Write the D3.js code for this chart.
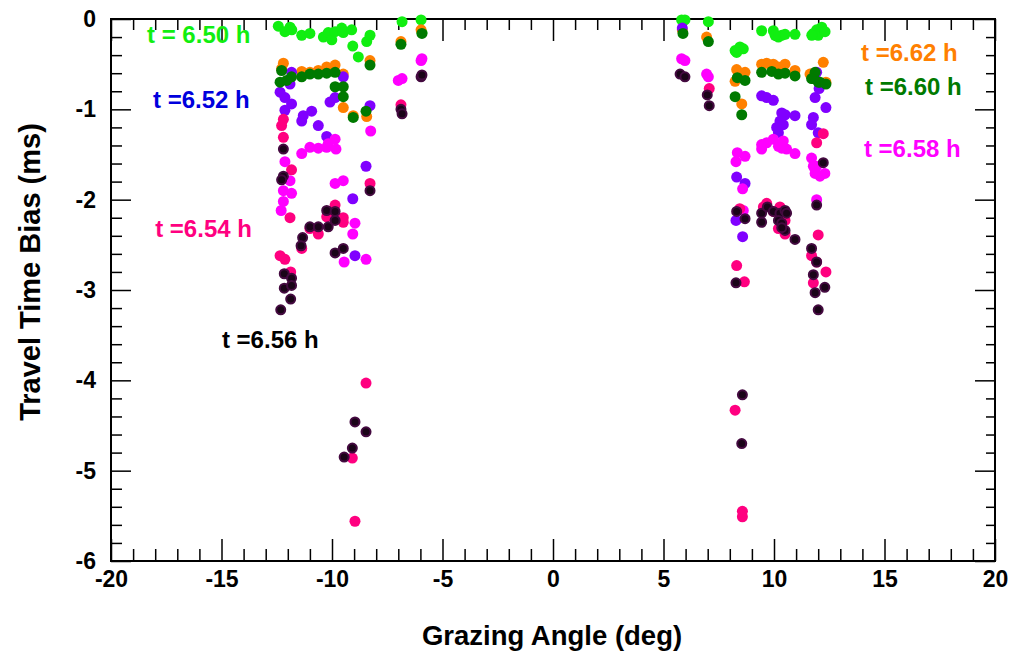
<!DOCTYPE html>
<html lang="en">
<head>
    <meta charset="UTF-8">
    <title>Travel Time Bias vs Grazing Angle</title>
    <script src="https://d3js.org/d3.v7.min.js"></script>
    <style>
        body { margin: 0; background: #fff; }
        svg text { font-family: Arial, "Liberation Sans", sans-serif; font-weight: bold; }
        .tick text { font-size: 23px; fill: #000; }
        .tick line { stroke: #000; stroke-width: 1.5px; }
        .domain { display: none; }
    </style>
</head>
<body>
<svg width="1009" height="654"></svg>

<script>
    // series labels / colours (draw order)
    const series = ["6.50", "6.62", "6.52", "6.58", "6.54", "6.56", "6.60"];
    const colors = {
        "6.50": "#11ee11", "6.52": "#8000ff", "6.54": "#ff0080", "6.56": "#1a0418",
        "6.58": "#ff00ff", "6.60": "#007a00", "6.62": "#ff8000"
    };
    const labelColors = {
        "6.50": "#11ee11", "6.52": "#0000dd", "6.54": "#ff0080", "6.56": "#000000",
        "6.58": "#ff00ff", "6.60": "#007a00", "6.62": "#ff8000"
    };

    // [grazing angle (deg), travel time bias (ms)]
    const t650 = [[-12.43,-0.08],[-12.13,-0.14],[-11.9,-0.09],[-11.82,-0.12],[-11.37,-0.18],[-11.0,-0.16],
        [-10.39,-0.20],[-10.17,-0.15],[-10.01,-0.23],[-9.86,-0.14],[-9.56,-0.10],[-9.49,-0.15],[-9.11,-0.12],
        [-9.06,-0.30],[-8.81,-0.42],[-8.43,-0.25],[-8.28,-0.18],[-6.83,-0.03],[-5.97,-0.01],[-5.93,-0.15],
        [5.82,-0.01],[5.97,-0.01],[7.03,-0.03],[8.24,-0.35],[8.46,-0.31],[8.61,-0.33],[8.31,-0.37],[9.44,-0.13],
        [9.97,-0.13],[10.2,-0.20],[10.35,-0.18],[10.5,-0.17],[10.05,-0.18],[10.95,-0.17],[11.78,-0.16],
        [11.93,-0.12],[12.0,-0.18],[11.71,-0.18],[12.16,-0.09],[12.31,-0.14]];

    const t662 = [[-12.2,-0.49],[-12.28,-0.55],[-11.37,-0.58],[-11.0,-0.59],[-10.62,-0.57],[-10.24,-0.53],
        [-9.86,-0.51],[-9.49,-0.61],[-9.49,-0.98],[-9.04,-1.07],[-8.43,-1.08],[-8.28,-0.46],[-6.88,-0.25],
        [-5.97,-0.12],[5.85,-0.12],[6.95,-0.20],[8.31,-0.56],[8.69,-0.59],[8.24,-0.69],[8.54,-0.94],[9.44,-0.50],
        [9.67,-0.49],[9.97,-0.50],[10.2,-0.53],[10.5,-0.50],[10.95,-0.57],[11.7,-0.61],[12.23,-0.48],
        [11.63,-0.61],[12.35,-0.70]];

    const t652 = [[-11.83,-0.59],[-11.9,-0.72],[-12.35,-0.81],[-12.13,-0.87],[-11.83,-0.94],[-12.13,-1.01],
        [-10.92,-1.02],[-11.3,-1.07],[-11.37,-1.13],[-10.62,-1.18],[-10.09,-0.92],[-9.86,-0.87],[-9.49,-0.64],
        [-8.28,-0.96],[-10.24,-1.30],[-8.46,-1.63],[-9.06,-1.99],[-8.96,-2.62],
        [5.85,-0.10],[9.44,-0.85],[9.67,-0.87],[9.97,-0.90],[10.35,-1.04],[10.5,-1.06],[10.95,-1.07],
        [10.27,-1.13],[10.42,-1.17],[10.12,-1.20],[10.2,-1.26],[11.86,-0.87],[12.04,-0.77],[12.35,-0.98],
        [11.78,-1.09],[11.7,-1.17],[12.0,-1.26],[11.93,-0.59],[8.31,-1.75],[8.69,-1.82],[8.28,-2.23],[8.58,-2.41]];

    const t658 = [[-12.13,-1.58],[-11.9,-1.79],[-12.2,-1.90],[-11.83,-1.93],[-12.2,-2.02],[-12.3,-2.12],
        [-11.37,-1.49],[-11.0,-1.42],[-10.62,-1.43],[-10.24,-1.42],[-10.17,-1.38],[-9.86,-1.33],[-9.82,-1.44],
        [-9.86,-1.82],[-9.49,-1.79],[-8.25,-1.24],[-8.96,-2.26],[-9.06,-2.38],[-9.45,-2.69],[-8.46,-2.66],
        [-6.83,-0.66],[-7.0,-0.68],[-5.97,-0.46],[-5.93,-0.44],
        [5.82,-0.44],[5.97,-0.46],[6.95,-0.61],[7.03,-0.64],[9.44,-1.39],[9.67,-1.37],[9.97,-1.33],
        [10.42,-1.35],[10.35,-1.43],[10.57,-1.44],[10.95,-1.49],[9.44,-1.44],[10.2,-1.41],[8.34,-1.48],
        [8.69,-1.52],[8.28,-1.58],[8.58,-1.88],[8.61,-2.12],[11.7,-1.54],[11.93,-1.63],[11.86,-1.71],
        [12.08,-1.74],[11.93,-2.0],[12.3,-1.71],[11.78,-1.63]];

    const t654 = [[-12.2,-1.11],[-12.28,-1.18],[-12.2,-1.31],[-11.83,-1.67],[-11.9,-2.20],[-9.86,-2.06],
        [-10.24,-2.19],[-9.86,-2.21],[-9.49,-2.20],[-9.49,-2.25],[-8.28,-1.82],[-11.0,-2.32],[-10.62,-2.38],
        [-11.37,-2.54],[-12.35,-2.62],[-12.13,-2.66],[-11.87,-2.80],[-8.46,-4.03],[-9.08,-4.86],[-8.96,-5.56],
        [-6.88,-0.95],
        [7.07,-0.77],[11.93,-1.37],[12.23,-1.27],[9.52,-2.08],[9.67,-2.04],[10.27,-2.08],[10.5,-2.13],
        [9.97,-2.13],[10.5,-2.23],[10.2,-2.32],[10.5,-2.38],[8.31,-2.73],[8.66,-2.91],[11.7,-2.62],
        [11.93,-2.69],[11.78,-2.92],[12.0,-2.39],[12.35,-2.80],[8.24,-4.33],[8.57,-5.45],[8.57,-5.51],[8.45,-2.10]];

    const t656 = [[-12.2,-1.44],[-12.2,-1.74],[-12.28,-1.78],[-10.24,-2.12],[-9.86,-2.13],[-9.86,-2.23],
        [-11.0,-2.30],[-10.62,-2.30],[-10.17,-2.30],[-8.28,-1.90],[-11.33,-2.42],[-11.4,-2.51],[-9.49,-2.54],
        [-9.86,-2.59],[-12.16,-2.82],[-11.83,-2.87],[-12.16,-2.98],[-11.83,-2.95],[-11.87,-3.10],[-12.32,-3.22],
        [-8.96,-4.46],[-8.46,-4.57],[-9.08,-4.75],[-9.45,-4.85],[-6.88,-1.0],[-6.83,-1.05],[-5.97,-0.64],[-5.93,-0.62],
        [5.75,-0.61],[5.97,-0.64],[6.98,-0.84],[7.07,-0.96],[8.31,-2.13],[8.69,-2.21],[9.44,-2.15],[9.7,-2.08],
        [9.97,-2.13],[10.27,-2.15],[10.5,-2.12],[10.57,-2.15],[9.44,-2.25],[10.2,-2.23],[10.35,-2.26],
        [10.5,-2.34],[10.35,-2.31],[10.95,-2.44],[11.7,-2.54],[11.93,-2.69],[11.78,-2.83],[11.86,-3.03],
        [12.0,-3.22],[11.93,-2.06],[8.28,-2.92],[8.57,-4.16],[8.54,-4.70],[12.23,-1.59],[12.3,-2.97]];

    const t660 = [[-12.28,-0.57],[-12.35,-0.70],[-12.05,-0.68],[-11.83,-0.64],[-11.37,-0.64],[-11.0,-0.61],
        [-10.62,-0.61],[-10.24,-0.60],[-9.86,-0.59],[-9.86,-0.75],[-9.49,-0.75],[-9.49,-0.86],[-9.04,-1.09],
        [-8.46,-1.02],[-8.28,-0.51],[-6.88,-0.28],[-5.93,-0.16],
        [5.88,-0.16],[7.03,-0.25],[8.34,-0.65],[8.69,-0.68],[8.24,-0.86],[8.54,-1.06],[9.44,-0.59],[9.9,-0.58],
        [10.2,-0.61],[10.5,-0.60],[10.95,-0.63],[11.78,-0.66],[12.0,-0.70],[11.86,-0.59],[11.7,-0.66],
        [12.08,-0.70],[12.35,-0.72]];

    const points = {"6.50": t650, "6.52": t652, "6.54": t654, "6.56": t656, "6.58": t658, "6.60": t660, "6.62": t662};

    // label anchor positions in data units
    const labels = [
        {t: "6.50", text: "t = 6.50 h", x: -18.37, y: -0.27},
        {t: "6.52", text: "t =6.52 h", x: -18.1, y: -0.99},
        {t: "6.54", text: "t =6.54 h", x: -18.0, y: -2.41},
        {t: "6.56", text: "t =6.56 h", x: -14.98, y: -3.64},
        {t: "6.62", text: "t =6.62 h", x: 13.94, y: -0.47},
        {t: "6.60", text: "t =6.60 h", x: 14.12, y: -0.84},
        {t: "6.58", text: "t =6.58 h", x: 14.07, y: -1.53}
    ];

    const xTicks = [-20, -15, -10, -5, 0, 5, 10, 15, 20];
    const yTicks = [0, -1, -2, -3, -4, -5, -6];

    const svg = d3.select("svg");
    const mLeft = 111, mRight = 995, mTop = 19, mBottom = 561;

    const x = d3.scaleLinear().domain([-20, 20]).range([mLeft, mRight]);
    const y = d3.scaleLinear().domain([-6, 0]).range([mBottom, mTop]);

    const xMinor = d3.range(-20, 21, 1).filter(d => d % 5 !== 0);
    const yMinor = d3.range(-30, 1, 1).map(d => d / 5).filter(d => Math.abs(d % 1) > 1e-6);

    // minor ticks
    svg.append("g").attr("transform", `translate(0,${mBottom})`)
        .call(d3.axisBottom(x).tickValues(xMinor).tickSize(-12).tickFormat(""));
    svg.append("g").attr("transform", `translate(0,${mTop})`)
        .call(d3.axisTop(x).tickValues(xMinor).tickSize(-11).tickFormat(""));
    svg.append("g").attr("transform", `translate(${mLeft},0)`)
        .call(d3.axisLeft(y).tickValues(yMinor).tickSize(-11).tickFormat(""));
    svg.append("g").attr("transform", `translate(${mRight},0)`)
        .call(d3.axisRight(y).tickValues(yMinor).tickSize(-9).tickFormat(""));

    // major ticks
    svg.append("g").attr("transform", `translate(0,${mBottom})`)
        .call(d3.axisBottom(x).tickValues(xTicks).tickSize(-22).tickPadding(10).tickFormat(d => String(d)));
    svg.append("g").attr("transform", `translate(0,${mTop})`)
        .call(d3.axisTop(x).tickValues(xTicks).tickSize(-22).tickFormat(""));
    svg.append("g").attr("transform", `translate(${mLeft},0)`)
        .call(d3.axisLeft(y).tickValues(yTicks).tickSize(-20).tickPadding(15).tickFormat(d => String(d)));
    svg.append("g").attr("transform", `translate(${mRight},0)`)
        .call(d3.axisRight(y).tickValues(yTicks).tickSize(-20).tickFormat(""));

    svg.append("rect")
        .attr("x", mLeft).attr("y", mTop)
        .attr("width", mRight - mLeft).attr("height", mBottom - mTop)
        .attr("fill", "none").attr("stroke", "#000").attr("stroke-width", 2);

    // points
    series.forEach(function (t) {
        svg.append("g")
            .selectAll("circle")
            .data(points[t])
            .enter()
            .append("circle")
            .attr("cx", d => x(d[0]))
            .attr("cy", d => y(d[1]))
            .attr("r", t === "6.56" ? 4.5 : 5.5)
            .attr("fill", colors[t])
            .attr("stroke", t === "6.56" ? "#440a40" : "none")
            .attr("stroke-width", 2);
    });

    // series labels
    svg.append("g")
        .selectAll("text")
        .data(labels)
        .enter()
        .append("text")
        .attr("x", d => x(d.x))
        .attr("y", d => y(d.y))
        .attr("fill", d => labelColors[d.t])
        .style("font-size", "24px")
        .text(d => d.text);

    // axis titles
    svg.append("text")
        .attr("x", 552).attr("y", 645)
        .attr("text-anchor", "middle")
        .style("font-size", "27.5px")
        .text("Grazing Angle (deg)");

    svg.append("text")
        .attr("transform", "translate(40,272) rotate(-90)")
        .attr("text-anchor", "middle")
        .style("font-size", "29px")
        .text("Travel Time Bias (ms)");
</script>
</body>
</html>
